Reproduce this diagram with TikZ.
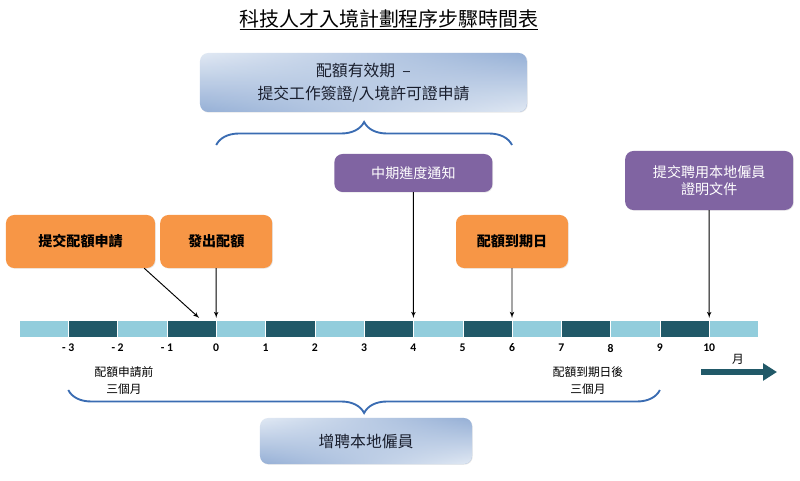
\documentclass[tikz,border=0pt]{standalone}
\usepackage{fontspec}
\setmainfont{Noto Sans CJK TC}
\newfontfamily\numfont{Carlito}
\usetikzlibrary{shapes,arrows,arrows.meta,calc,decorations.pathreplacing,shadows,fadings}
\definecolor{barlight}{RGB}{146,205,220}
\definecolor{bardark}{RGB}{33,89,104}
\definecolor{boxorange}{RGB}{247,150,70}
\definecolor{boxpurple}{RGB}{128,100,162}
\definecolor{bracecol}{RGB}{58,108,178}
\definecolor{paleblue}{RGB}{225,233,244}
\definecolor{midblue}{RGB}{150,176,214}
\definecolor{navytext}{RGB}{25,30,45}
\tikzstyle{heading} = [font=\fontsize{17}{20}\selectfont]
\tikzstyle{period} = [rectangle, rounded corners=7pt, top color=paleblue, bottom color=midblue,
    postaction={top color=midblue, bottom color=paleblue, path fading=west},
    text=navytext, align=center, drop shadow={opacity=0.2, shadow xshift=0.6pt, shadow yshift=-0.6pt}]
\tikzstyle{event} = [rectangle, rounded corners=7pt, fill=boxorange, minimum height=1.59cm,
    font=\fontsize{12}{14}\selectfont\bfseries, drop shadow={opacity=0.2, shadow xshift=0.6pt, shadow yshift=-0.6pt}]
\tikzstyle{notice} = [rectangle, rounded corners=7pt, fill=boxpurple, text=white, align=center,
    font=\fontsize{12}{14.5}\selectfont, drop shadow={opacity=0.2, shadow xshift=0.6pt, shadow yshift=-0.6pt}]
\tikzstyle{pointer} = [draw, thick, -latex']
\tikzstyle{bracket} = [draw=bracecol, line width=1.6pt, decorate, decoration={brace, amplitude=0.69cm}]
\tikzstyle{seglight} = [fill=barlight, draw=white, line width=0.3pt]
\tikzstyle{segdark} = [fill=bardark, draw=white, line width=0.3pt]
\tikzstyle{month} = [font=\numfont\bfseries\fontsize{10}{12}\selectfont]
\tikzstyle{remark} = [align=center, font=\fontsize{10}{14.5}\selectfont]

\begin{document}
\begin{tikzpicture}[x=0.03cm, y=-0.03cm]
  \useasboundingbox (0,0) rectangle (800,481);
  \node [heading] (head) at (389,20) {\underline{科技人才入境計劃程序步驟時間表}};
  \node [period, minimum width=9.81cm, minimum height=1.77cm, font=\fontsize{13.5}{20}\selectfont]
    (valid) at (363.5,82.5) {配額有效期\ \ –\\提交工作簽證/入境許可證申請};

  \foreach \k in {0,2,...,14}
    \path [seglight] ({19+49.3*\k},320) rectangle ({19+49.3*(\k+1)},337);
  \foreach \k in {1,3,...,13}
    \path [segdark] ({19+49.3*\k},320) rectangle ({19+49.3*(\k+1)},337);
  \foreach \k in {1,...,14}
    \coordinate (b\k) at ({19+49.3*\k},318);
  \foreach \k/\t in {1/- 3,2/- 2,3/- 1,4/0,5/1,6/2,7/3,8/4,9/5,10/6,11/7,12/8,13/9,14/10}
    \node [month] (n\k) at ({19+49.3*\k},348) {\t};

  \node [event, minimum width=4.47cm] (submit) at (80.5,241.5) {提交配額申請};
  \node [event, minimum width=3.36cm] (issue) at (216.2,241.5) {發出配額};
  \node [event, minimum width=3.36cm] (expiry) at (512,241.5) {配額到期日};
  \node [notice, minimum width=4.74cm, minimum height=1.14cm] (midterm) at (413.4,173) {中期進度通知};
  \node [notice, minimum width=5.04cm, minimum height=1.77cm] (proof) at (709.2,180.5) {提交聘用本地僱員\\證明文件};

  \coordinate (aim) at ($(b4)+(-17,0)$);
  \path [pointer] ($(submit.south east)+(-11,0)$) -- (aim);
  \path [pointer] (issue.south) -- (b4);
  \path [pointer] (midterm.south) -- (b8);
  \path [pointer] (expiry.south) -- (b10);
  \path [pointer] (proof.south) -- (b14);

  \coordinate (vs) at ({19+49.3*4},145);
  \coordinate (ve) at ({19+49.3*10},145);
  \path [bracket] (vs) -- (ve);
  \coordinate (hs) at ({19+49.3*13},390);
  \coordinate (he) at ({19+49.3*1},390);
  \path [bracket] (hs) -- (he);

  \node [remark] (before) at (124,381) {配額申請前\\三個月};
  \node [remark] (after) at (588,381) {配額到期日後\\三個月};
  \node [period, minimum width=6.36cm, minimum height=1.38cm, font=\fontsize{13.5}{16}\selectfont]
    (hire) at (366,441) {增聘本地僱員};

  \coordinate (axs) at (701,372);
  \coordinate (axe) at (777,372);
  \draw [bardark, line width=0.18cm, -{Triangle[length=0.42cm, width=0.5cm]}] (axs) -- (axe);
  \node [font=\fontsize{10}{12}\selectfont] (unit) at (738,359) {月};
\end{tikzpicture}
\end{document}
